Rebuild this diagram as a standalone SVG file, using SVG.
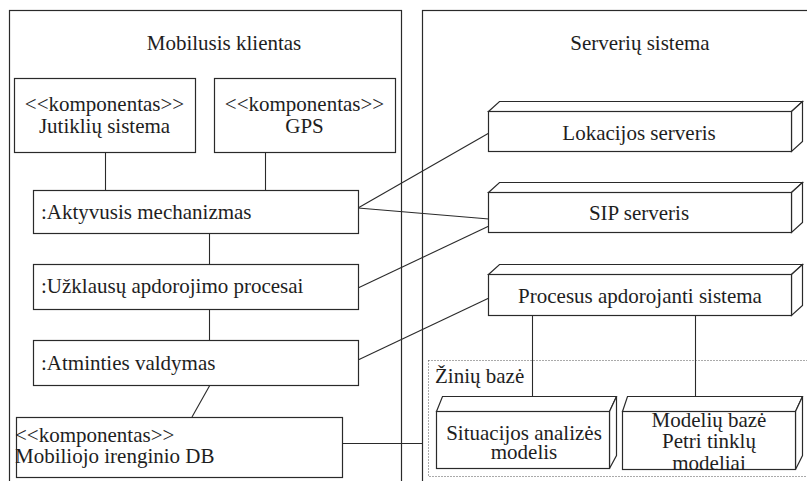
<svg xmlns="http://www.w3.org/2000/svg" width="807" height="481" viewBox="0 0 807 481" font-family="'Liberation Serif', 'Times New Roman', Times, serif" font-size="21">
  <style>
    .frame { fill: none; stroke: #2a2a2a; stroke-width: 1.2; }
    .box { fill: #ffffff; stroke: #2a2a2a; stroke-width: 1.2; }
    .face { fill: #ffffff; stroke: #2a2a2a; stroke-width: 1.2; stroke-linejoin: miter; }
    .link { fill: none; stroke: #2a2a2a; stroke-width: 1.1; }
    .dotted { fill: none; stroke: #555555; stroke-width: 1; stroke-dasharray: 1 2; }
    .t { fill: #1e1e1e; }
    .c { text-anchor: middle; }
  </style>
  <rect width="807" height="481" fill="#ffffff"/>

  <!-- deployment frames -->
  <g id="frame-client">
    <rect class="frame" x="9.5" y="10.5" width="392" height="480"/>
    <text class="t c" x="224" y="50" font-family="Liberation Serif">Mobilusis klientas</text>
  </g>
  <g id="frame-server">
    <rect class="frame" x="422.5" y="10.5" width="400" height="480"/>
    <text class="t c" x="640" y="50">Serverių sistema</text>
  </g>
  <g id="frame-knowledge">
    <rect class="dotted" x="428.5" y="360.5" width="390" height="116"/>
    <text class="t" x="435" y="383">Žinių bazė</text>
  </g>

  <!-- connectors -->
  <g id="connectors">
    <line class="link" x1="105.5" y1="152" x2="105.5" y2="190"/>
    <line class="link" x1="265.5" y1="152" x2="265.5" y2="190"/>
    <line class="link" x1="209.5" y1="233" x2="209.5" y2="264"/>
    <line class="link" x1="209.5" y1="309" x2="209.5" y2="340"/>
    <line class="link" x1="210" y1="385" x2="192" y2="417"/>
    <line class="link" x1="342" y1="443.5" x2="422" y2="443.5"/>
    <line class="link" x1="358" y1="208" x2="489" y2="133"/>
    <line class="link" x1="358" y1="208" x2="489" y2="219"/>
    <line class="link" x1="358" y1="288" x2="489" y2="226"/>
    <line class="link" x1="358" y1="360" x2="489" y2="298"/>
    <line class="link" x1="532.5" y1="315" x2="532.5" y2="397"/>
    <line class="link" x1="695.5" y1="315" x2="695.5" y2="397"/>
  </g>

  <!-- client components -->
  <g id="jutikliu-sistema">
    <rect class="box" x="14.5" y="78.5" width="181" height="74"/>
    <text class="t c" x="104.5" y="111">&lt;&lt;komponentas&gt;&gt;</text>
    <text class="t c" x="104.5" y="133">Jutiklių sistema</text>
  </g>
  <g id="gps">
    <rect class="box" x="214.5" y="78.5" width="181" height="74"/>
    <text class="t c" x="304.5" y="111">&lt;&lt;komponentas&gt;&gt;</text>
    <text class="t c" x="304.5" y="133">GPS</text>
  </g>
  <g id="aktyvusis-mechanizmas">
    <rect class="box" x="33.5" y="190.5" width="325" height="43"/>
    <text class="t" x="41" y="219">:Aktyvusis mechanizmas</text>
  </g>
  <g id="uzklausu-procesai">
    <rect class="box" x="33.5" y="264.5" width="325" height="45"/>
    <text class="t" x="41" y="293">:Užklausų apdorojimo procesai</text>
  </g>
  <g id="atminties-valdymas">
    <rect class="box" x="33.5" y="340.5" width="325" height="45"/>
    <text class="t" x="41" y="370">:Atminties valdymas</text>
  </g>
  <g id="mobiliojo-db">
    <rect class="box" x="16.5" y="417.5" width="326" height="60"/>
    <text class="t" x="15" y="442">&lt;&lt;komponentas&gt;&gt;</text>
    <text class="t" x="15" y="463">Mobiliojo irenginio DB</text>
  </g>

  <!-- server nodes -->
  <g id="lokacijos-serveris">
    <path class="face" d="M488.5,111.5 L499.5,101.5 L802.5,101.5 L791.5,111.5 Z"/>
    <path class="face" d="M791.5,111.5 L802.5,101.5 L802.5,141.5 L791.5,151.5 Z"/>
    <rect class="box" x="488.5" y="111.5" width="303" height="40"/>
    <text class="t c" x="639" y="140">Lokacijos serveris</text>
  </g>
  <g id="sip-serveris">
    <path class="face" d="M488.5,192.5 L499.5,182.5 L802.5,182.5 L791.5,192.5 Z"/>
    <path class="face" d="M791.5,192.5 L802.5,182.5 L802.5,222.5 L791.5,232.5 Z"/>
    <rect class="box" x="488.5" y="192.5" width="303" height="40"/>
    <text class="t c" x="639" y="220">SIP serveris</text>
  </g>
  <g id="procesus-apdorojanti-sistema">
    <path class="face" d="M488.5,274.5 L499.5,264.5 L802.5,264.5 L791.5,274.5 Z"/>
    <path class="face" d="M791.5,274.5 L802.5,264.5 L802.5,305.5 L791.5,315.5 Z"/>
    <rect class="box" x="488.5" y="274.5" width="303" height="41"/>
    <text class="t c" x="640" y="303">Procesus apdorojanti sistema</text>
  </g>
  <g id="situacijos-analizes-modelis">
    <path class="face" d="M436.5,411.5 L442.5,396.5 L616.5,396.5 L609.5,411.5 Z"/>
    <path class="face" d="M609.5,411.5 L616.5,396.5 L616.5,455.5 L609.5,468.5 Z"/>
    <rect class="box" x="436.5" y="411.5" width="173" height="57"/>
    <text class="t c" x="524" y="440">Situacijos analizės</text>
    <text class="t c" x="524" y="459">modelis</text>
  </g>
  <g id="modeliu-baze">
    <path class="face" d="M622.5,411.5 L627.5,396.5 L802.5,396.5 L795.5,411.5 Z"/>
    <path class="face" d="M795.5,411.5 L802.5,396.5 L802.5,455.5 L795.5,469.5 Z"/>
    <rect class="box" x="622.5" y="411.5" width="173" height="58"/>
    <text class="t c" x="709" y="427">Modelių bazė</text>
    <text class="t c" x="709" y="448">Petri tinklų</text>
    <text class="t c" x="709" y="470">modeliai</text>
  </g>
</svg>
